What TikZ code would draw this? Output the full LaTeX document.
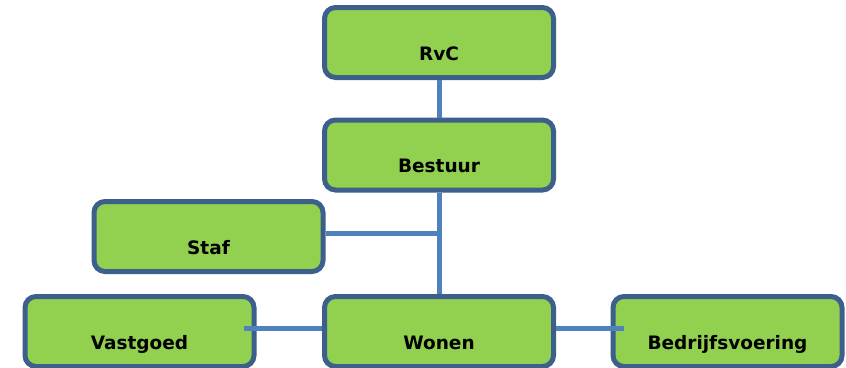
\documentclass[tikz,border=0pt]{standalone}
\usepackage{fontspec}
\setmainfont{DejaVu Sans}
\usepackage{tikz}
\definecolor{boxgreen}{HTML}{92D050}
\definecolor{boxblue}{HTML}{3C5F8C}
\definecolor{linkblue}{HTML}{4F81BD}
\tikzset{
BOX/.style={draw=boxblue,fill=boxgreen,line width=5pt,rounded corners=11pt,
	minimum width=229pt,minimum height=70pt,inner sep=0pt,
	text height=35pt,text depth=0pt,font=\fontsize{18.5}{20}\selectfont\bfseries},
LINK/.style={draw=linkblue,line width=5pt,line cap=butt},
}
\begin{document}
\begin{tikzpicture}[x=1pt,y=-1pt]
	\useasboundingbox (0,0) rectangle (846,367);
	\node[BOX] (rvc) at (439,42.5) {RvC};
	\node[BOX] (bestuur) at (439,155) {Bestuur};
	\node[BOX] (staf) at (208.5,236.5) {Staf};
	\node[BOX] (vastgoed) at (139.5,331.5) {Vastgoed};
	\node[BOX] (wonen) at (439,331.5) {Wonen};
	\node[BOX] (bedrijf) at (727.5,331.5) {Bedrijfsvoering};
	%lines
	\draw[LINK] (rvc) -- (bestuur);
	\draw[LINK] (bestuur) -- (wonen);
	\draw[LINK] ([yshift=3.5pt]staf.east) -- ([yshift=3.5pt]staf.east -| bestuur.south);
	\draw[LINK] ([yshift=3.5pt]wonen.west) -- ([xshift=-13pt,yshift=3.5pt]vastgoed.east);
	\draw[LINK] ([yshift=3.5pt]wonen.east) -- ([xshift=13pt,yshift=3.5pt]bedrijf.west);
\end{tikzpicture}
\end{document}
